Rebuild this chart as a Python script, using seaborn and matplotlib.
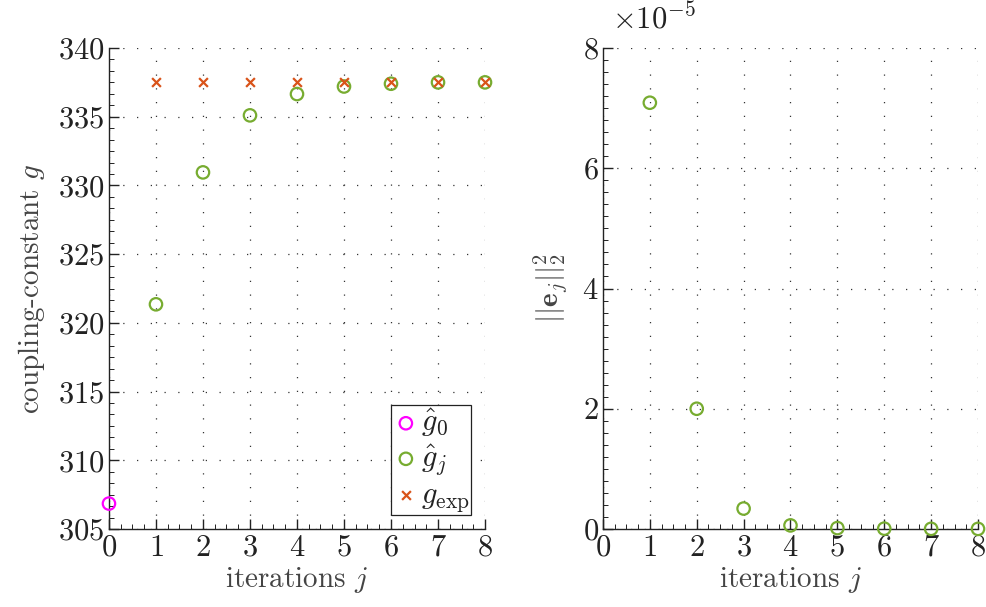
import matplotlib
matplotlib.use("Agg")
import matplotlib.pyplot as plt
import seaborn as sns
import pandas as pd
from matplotlib.ticker import MultipleLocator, AutoMinorLocator, ScalarFormatter

# iteration data
iters_all = [0, 1, 2, 3, 4, 5, 6, 7, 8]
iters = [1, 2, 3, 4, 5, 6, 7, 8]
g_initial = [306.85]
g_hat = [321.35, 330.95, 335.1, 336.65, 337.2, 337.4, 337.5, 337.5]
g_exp = [337.5, 337.5, 337.5, 337.5, 337.5, 337.5, 337.5, 337.5]
err_sq = [7.09e-5, 2.0e-5, 0.34e-5, 0.06e-5, 0.015e-5, 0.006e-5, 0.003e-5, 0.002e-5]
g_ticks = [305, 310, 315, 320, 325, 330, 335, 340]
e_ticks = [0, 2e-5, 4e-5, 6e-5, 8e-5]

sns.set_style("ticks")
plt.rcParams.update({
    "font.family": "serif",
    "font.serif": ["cmr10", "DejaVu Serif"],
    "mathtext.fontset": "cm",
    "axes.formatter.use_mathtext": True,
    "axes.unicode_minus": True,
    "font.size": 22,
    "axes.labelsize": 21,
    "xtick.labelsize": 22,
    "ytick.labelsize": 22,
    "legend.fontsize": 22,
    "axes.edgecolor": "#222222",
    "axes.linewidth": 1.0,
    "xtick.color": "#222222",
    "ytick.color": "#222222",
    "text.color": "#222222",
    "axes.labelcolor": "#444444",
})

MAGENTA = "#FF00FF"
GREEN = "#77AC30"
ORANGE = "#D95319"

fig = plt.figure(figsize=(9.87, 6.07), dpi=100)
ax1 = fig.add_axes([0.1104, 0.1285, 0.3810, 0.7924])
ax2 = fig.add_axes([0.6109, 0.1285, 0.3800, 0.7924])

df_init = pd.DataFrame({"j": [0], "g": g_initial})
df_hat = pd.DataFrame({"j": iters, "g": g_hat})
df_exp = pd.DataFrame({"j": iters, "g": g_exp})
df_err = pd.DataFrame({"j": iters, "e": err_sq})

circ = dict(marker="o", s=80, facecolor="none", linewidth=1.6, clip_on=False, zorder=4)

sns.scatterplot(data=df_init, x="j", y="g", ax=ax1, edgecolor=MAGENTA,
                label=r"$\hat{g}_0$", **circ)
sns.scatterplot(data=df_hat, x="j", y="g", ax=ax1, edgecolor=GREEN,
                label=r"$\hat{g}_j$", **circ)
sns.scatterplot(data=df_exp, x="j", y="g", ax=ax1, marker="x", s=40,
                color=ORANGE, linewidth=1.6, label=r"$g_{\mathrm{exp}}$",
                clip_on=False, zorder=5)

sns.scatterplot(data=df_err, x="j", y="e", ax=ax2, edgecolor=GREEN,
                legend=False, **circ)

for ax in (ax1, ax2):
    sns.despine(ax=ax)
    ax.set_xlim(0, 8)
    ax.set_xticks(iters_all)
    ax.xaxis.set_minor_locator(MultipleLocator(0.25))
    ax.tick_params(which="major", direction="in", length=7, width=1.0, pad=3)
    ax.tick_params(axis="x", which="major", pad=4)
    ax.tick_params(which="minor", direction="in", length=3.5, width=0.7)
    ax.grid(True, which="major", color="#333333", linestyle=(0, (1, 10)),
            linewidth=0.9)
    ax.set_axisbelow(True)
    ax.set_xlabel(r"iterations $j$", labelpad=2)

ax1.set_ylim(305, 340)
ax1.set_yticks(g_ticks)
ax1.yaxis.set_minor_locator(AutoMinorLocator(6))
ax1.set_ylabel(r"coupling-constant $g$", labelpad=8)

ax2.set_ylim(0, 8e-5)
ax2.set_yticks(e_ticks)
ax2.yaxis.set_minor_locator(MultipleLocator(0.2e-5))
fmt = ScalarFormatter(useMathText=True)
fmt.set_powerlimits((0, 0))
ax2.yaxis.set_major_formatter(fmt)
ax2.yaxis.get_offset_text().set_visible(False)
ax2.text(0.025, 1.028, r"$\times10^{-5}$", transform=ax2.transAxes,
         ha="left", va="bottom", fontsize=22)
ax2.set_ylabel(r"$||\mathbf{e}_j||_2^2$", labelpad=10)

leg = ax1.legend(loc="lower right", frameon=True, fancybox=False,
                 edgecolor="#222222", framealpha=1.0, borderaxespad=0.45,
                 handletextpad=0.05, handlelength=0.9, borderpad=0.05,
                 labelspacing=0.1)
leg.get_frame().set_linewidth(0.9)

fig.savefig("out.png", dpi=100)
